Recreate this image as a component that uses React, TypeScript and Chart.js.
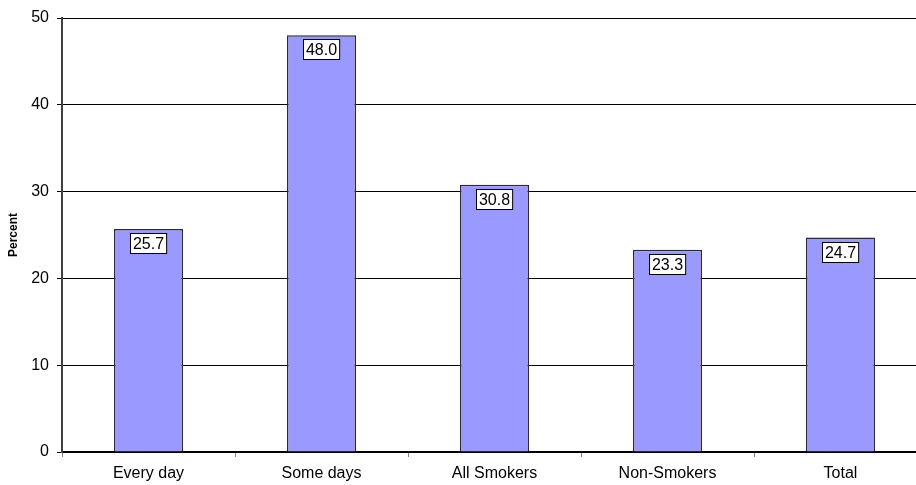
import React, { useEffect, useRef } from "react";
import { Chart, registerables } from "chart.js";

Chart.register(...registerables);

const categories = ["Every day", "Some days", "All Smokers", "Non-Smokers", "Total"];
const percentValues = [25.7, 48.0, 30.8, 23.3, 24.7];
const yTickValues = [0, 10, 20, 30, 40, 50];

const FONT = "Arial, 'Liberation Sans', sans-serif";

const labelBoxPlugin = {
  id: "labelBoxes",
  afterDatasetsDraw(chart: any) {
    const ctx = chart.ctx;
    const meta = chart.getDatasetMeta(0);
    ctx.save();
    ctx.font = `16px ${FONT}`;
    ctx.textAlign = "center";
    ctx.textBaseline = "middle";
    meta.data.forEach((bar: any, i: number) => {
      const text = percentValues[i].toFixed(1);
      const w = ctx.measureText(text).width + 5;
      const h = 20;
      const x = Math.round(bar.x - w / 2) + 0.5;
      const y = Math.round(bar.y + 4) + 0.5;
      ctx.fillStyle = "#ffffff";
      ctx.fillRect(x, y, w, h);
      ctx.strokeStyle = "#000000";
      ctx.lineWidth = 1;
      ctx.strokeRect(x, y, w, h);
      ctx.fillStyle = "#000000";
      ctx.fillText(text, bar.x, y + h / 2 + 1);
    });
    ctx.restore();
  },
};

export default function App() {
  const canvasRef = useRef<HTMLCanvasElement | null>(null);

  useEffect(() => {
    if (!canvasRef.current) return;
    const chart = new Chart(canvasRef.current, {
      type: "bar",
      data: {
        labels: categories,
        datasets: [
          {
            data: percentValues,
            backgroundColor: "#9999FF",
            borderColor: "#2a2a3a",
            borderWidth: 1.5,
            barPercentage: 0.4,
            categoryPercentage: 1,
          },
        ],
      },
      options: {
        animation: false,
        responsive: true,
        maintainAspectRatio: false,
        layout: { padding: { top: 18, right: 0, left: 0, bottom: 0 } },
        plugins: {
          legend: { display: false },
          tooltip: { enabled: false },
        },
        scales: {
          x: {
            grid: {
              offset: true,
              drawOnChartArea: false,
              drawTicks: true,
              tickLength: 5,
              color: "#808080",
            },
            border: { color: "#000000", width: 1.5 },
            ticks: {
              color: "#000000",
              font: { family: FONT, size: 16 },
              padding: 7,
              maxRotation: 0,
            },
            afterFit(scale: any) {
              scale.height = 33;
            },
          },
          y: {
            min: 0,
            max: 50,
            afterBuildTicks(scale: any) {
              scale.ticks = yTickValues.map((v) => ({ value: v }));
            },
            grid: {
              color: "#000000",
              lineWidth: 1,
              tickLength: 5,
            },
            border: { color: "#404040", width: 2 },
            ticks: {
              color: "#000000",
              font: { family: FONT, size: 16 },
              padding: 8,
            },
            title: {
              display: true,
              text: "Percent",
              color: "#000000",
              font: { family: FONT, size: 12, weight: "bold" },
              padding: { top: 6, bottom: 0 },
            },
            afterFit(scale: any) {
              scale.width = 62;
            },
          },
        },
      },
      plugins: [labelBoxPlugin],
    });
    return () => chart.destroy();
  }, []);

  return (
    <div
      style={{
        position: "fixed",
        left: 0,
        top: 0,
        width: 916,
        height: 485,
        overflow: "hidden",
        background: "#ffffff",
      }}
    >
      <div style={{ position: "relative", width: 927, height: 485 }}>
        <canvas ref={canvasRef} />
      </div>
    </div>
  );
}
